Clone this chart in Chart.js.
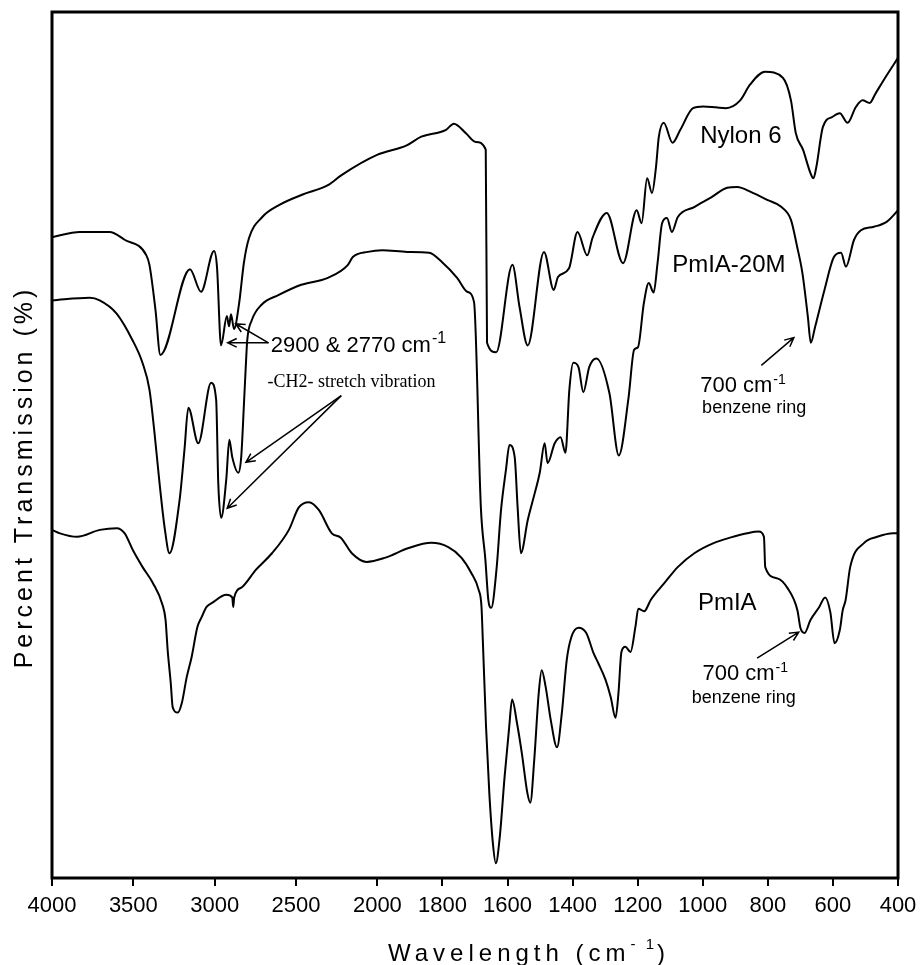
<!DOCTYPE html>
<html>
<head>
<meta charset="utf-8">
<title>FTIR spectra</title>
<script src="https://cdn.jsdelivr.net/npm/chart.js@4/dist/chart.umd.min.js"></script>
<style>
  html, body { margin: 0; padding: 0; background: #fff; }
  canvas { display: block; }
</style>
</head>
<body>
<canvas id="ftir" width="924" height="965"></canvas>
<script>
// Tick labels on the wavenumber axis (cm-1)
const wavenumberTicks = [4000, 3500, 3000, 2500, 2000, 1800, 1600, 1400, 1200, 1000, 800, 600, 400];

// Nylon 6
const nylonWavenumber = [4000, 3829, 3646, 3554, 3420, 3401, 3364, 3334, 3152, 3084, 3004, 2986, 2961, 2925, 2912, 2900, 2881, 2851, 2820, 2789, 2709, 2605, 2463, 2304, 2218, 2002, 1910, 1865, 1789, 1765, 1728, 1698, 1667, 1663, 1635, 1585, 1563, 1538, 1488, 1458, 1445, 1411, 1385, 1355, 1339, 1295, 1245, 1203, 1188, 1171, 1156, 1144, 1135, 1120, 1093, 1069, 1030, 999, 960, 929, 885, 855, 809, 754, 729, 714, 692, 669, 660, 651, 631, 601, 579, 555, 530, 509, 487, 469, 438, 400];
const nylonTransmission = [74.0, 74.6, 74.6, 73.7, 71.9, 70.8, 65.6, 60.4, 70.3, 67.7, 72.4, 70.6, 61.5, 64.9, 63.7, 65.1, 63.4, 66.2, 71.1, 73.9, 76.3, 77.7, 78.9, 80.0, 81.2, 83.5, 84.6, 85.6, 86.4, 87.1, 86.0, 85.0, 84.1, 61.8, 60.7, 70.8, 65.9, 61.5, 72.3, 67.9, 69.4, 70.4, 74.6, 71.9, 73.9, 76.8, 71.0, 77.1, 75.6, 80.8, 79.1, 82.0, 85.6, 87.2, 84.9, 86.4, 88.9, 89.1, 89.0, 88.9, 89.8, 91.6, 93.1, 92.4, 89.8, 86.0, 84.1, 81.4, 80.8, 82.1, 86.7, 87.9, 88.3, 87.2, 89.0, 89.8, 89.5, 90.6, 92.5, 94.7];

// PmIA-20M
const pmia20mWavenumber = [4000, 3768, 3707, 3604, 3505, 3444, 3401, 3370, 3339, 3308, 3278, 3216, 3186, 3162, 3101, 3022, 2991, 2978, 2960, 2929, 2910, 2892, 2855, 2837, 2819, 2807, 2800, 2772, 2712, 2609, 2468, 2304, 2181, 2151, 2059, 1985, 1908, 1841, 1801, 1755, 1724, 1703, 1682, 1668, 1659, 1650, 1634, 1620, 1605, 1594, 1578, 1569, 1559, 1538, 1516, 1501, 1486, 1477, 1455, 1437, 1422, 1410, 1398, 1382, 1367, 1349, 1327, 1287, 1258, 1228, 1211, 1199, 1181, 1166, 1151, 1139, 1125, 1110, 1095, 1077, 1025, 974, 925, 894, 851, 802, 759, 729, 710, 694, 677, 668, 655, 626, 597, 575, 560, 535, 514, 474, 434, 400];
const pmia20mTransmission = [66.7, 67.0, 66.7, 65.2, 62.1, 59.5, 56.4, 51.4, 45.6, 40.5, 37.5, 43.6, 49.4, 54.3, 50.2, 57.2, 55.2, 45.6, 41.6, 46.0, 50.6, 48.6, 46.8, 48.6, 55.2, 59.8, 62.1, 64.4, 66.2, 67.3, 68.5, 69.3, 70.8, 71.7, 72.3, 72.5, 72.3, 72.2, 71.1, 69.3, 67.7, 66.5, 42.8, 36.7, 32.1, 31.2, 35.6, 42.5, 47.1, 50.0, 48.6, 42.8, 37.5, 41.3, 44.5, 46.8, 50.2, 47.9, 50.2, 50.9, 49.1, 56.4, 59.5, 59.0, 56.1, 59.0, 60.0, 56.0, 48.8, 55.5, 61.0, 61.3, 66.4, 68.7, 67.6, 71.0, 75.6, 76.2, 74.6, 76.3, 77.5, 78.6, 79.7, 79.8, 79.2, 78.3, 77.5, 76.0, 72.9, 69.9, 64.8, 61.8, 63.6, 67.9, 71.7, 72.2, 70.6, 73.7, 74.8, 75.2, 75.8, 77.1];

// PmIA
const pmiaWavenumber = [4000, 3951, 3846, 3706, 3602, 3553, 3504, 3443, 3381, 3320, 3302, 3289, 3270, 3258, 3227, 3202, 3172, 3142, 3106, 3081, 3050, 3014, 2928, 2892, 2886, 2880, 2831, 2746, 2648, 2544, 2483, 2421, 2360, 2280, 2225, 2157, 2066, 1975, 1904, 1834, 1782, 1742, 1711, 1689, 1680, 1676, 1666, 1656, 1645, 1636, 1624, 1609, 1595, 1586, 1571, 1556, 1539, 1530, 1518, 1504, 1495, 1483, 1467, 1448, 1433, 1418, 1404, 1382, 1358, 1336, 1321, 1299, 1283, 1268, 1259, 1250, 1238, 1222, 1207, 1198, 1180, 1160, 1117, 1077, 1026, 965, 916, 864, 828, 812, 808, 771, 740, 709, 700, 687, 669, 642, 624, 608, 595, 579, 570, 561, 547, 504, 464, 414, 400];
const pmiaTransmission = [40.2, 39.8, 39.4, 40.2, 40.4, 39.8, 37.9, 35.9, 34.1, 31.5, 29.8, 26.3, 22.5, 19.7, 19.1, 20.2, 23.2, 25.5, 29.0, 30.1, 31.3, 31.8, 32.7, 32.4, 31.3, 32.4, 33.6, 35.6, 37.5, 40.2, 42.8, 43.4, 42.5, 39.8, 39.3, 37.5, 36.5, 37.0, 38.1, 38.7, 38.2, 37.0, 35.2, 33.3, 31.3, 27.5, 17.4, 9.8, 4.0, 1.7, 4.7, 11.7, 17.4, 20.6, 17.9, 14.4, 9.8, 8.7, 13.6, 21.4, 24.0, 22.1, 18.2, 15.1, 19.1, 25.2, 27.8, 28.9, 28.3, 26.0, 24.8, 22.9, 20.9, 18.5, 21.4, 26.1, 26.7, 26.1, 29.0, 31.1, 30.8, 32.1, 34.1, 35.9, 37.5, 38.7, 39.3, 39.8, 40.0, 39.4, 35.9, 34.6, 33.5, 30.9, 28.9, 28.3, 29.8, 31.3, 32.4, 30.7, 27.1, 28.6, 30.9, 32.1, 35.9, 38.7, 39.4, 39.8, 39.8];

// The wavenumber axis is compressed 2:1 above 2000 cm-1 (chart-paper scale change).
function axisPos(w) { return w >= 2000 ? (4000 - w) / 2 : 1000 + (2000 - w); }
function axisWave(u) { return u <= 1000 ? 4000 - 2 * u : 3000 - u; }

function toPoints(ws, ts) { return ws.map((w, i) => ({ x: axisPos(w), y: ts[i] })); }

const SANS = '"Liberation Sans", Arial, Helvetica, sans-serif';
const SERIF = '"Liberation Serif", "Times New Roman", serif';

// Curve names and band annotations, placed in (wavenumber, transmission) units
const curveNames = [
  { text: 'Nylon 6',  w: 1008, t: 84.9 },
  { text: 'PmIA-20M', w: 1094, t: 70.0 },
  { text: 'PmIA',     w: 1015, t: 30.9 }
];
const bandNotes = [
  { text: '700 cm', sup: '-1', w: 1008, t: 56.1, size: 22, supSize: 14, rise: 8 },
  { text: 'benzene ring', w: 1002, t: 53.7, size: 18 },
  { text: '700 cm', sup: '-1', w: 1001, t: 22.9, size: 22, supSize: 14, rise: 8 },
  { text: 'benzene ring', w: 1034, t: 20.2, size: 18 },
  { text: '2900 & 2770 cm', sup: '-1', w: 2656, t: 60.7, size: 22, supSize: 16, rise: 9 },
  { text: '-CH2- stretch vibration', w: 2675, t: 56.7, size: 18, serif: true }
];
const arrows = [
  { from: [2669, 61.8], to: [2871, 64.0] },
  { from: [2669, 61.8], to: [2920, 61.8] },
  { from: [2222, 55.7], to: [2808, 48.0] },
  { from: [2222, 55.7], to: [2923, 42.7] },
  { from: [820, 59.2],  to: [720, 62.4] },
  { from: [833, 25.4],  to: [705, 28.4] }
];

const decorations = {
  id: 'decorations',
  afterDraw(chart) {
    const { ctx, chartArea: a, scales } = chart;
    const px = w => scales.x.getPixelForValue(axisPos(w));
    const py = t => scales.y.getPixelForValue(t);
    ctx.save();
    ctx.fillStyle = '#000';
    ctx.strokeStyle = '#000';

    // plot frame
    ctx.lineWidth = 3;
    ctx.strokeRect(a.left, a.top, a.right - a.left, a.bottom - a.top);

    // curve names
    ctx.textAlign = 'left';
    ctx.textBaseline = 'alphabetic';
    ctx.font = '24px ' + SANS;
    curveNames.forEach(n => ctx.fillText(n.text, px(n.w), py(n.t)));

    // band notes
    bandNotes.forEach(n => {
      const x = px(n.w), y = py(n.t);
      ctx.font = n.size + 'px ' + (n.serif ? SERIF : SANS);
      ctx.fillText(n.text, x, y);
      if (n.sup) {
        const wMain = ctx.measureText(n.text).width;
        ctx.font = n.supSize + 'px ' + SANS;
        ctx.fillText(n.sup, x + wMain + 1, y - n.rise);
      }
    });

    // arrows with open heads
    ctx.lineWidth = 1.5;
    arrows.forEach(ar => {
      const x1 = px(ar.from[0]), y1 = py(ar.from[1]);
      const x2 = px(ar.to[0]), y2 = py(ar.to[1]);
      ctx.beginPath();
      ctx.moveTo(x1, y1);
      ctx.lineTo(x2, y2);
      const ang = Math.atan2(y2 - y1, x2 - x1);
      const L = 10, spread = 0.45;
      ctx.moveTo(x2 - L * Math.cos(ang - spread), y2 - L * Math.sin(ang - spread));
      ctx.lineTo(x2, y2);
      ctx.lineTo(x2 - L * Math.cos(ang + spread), y2 - L * Math.sin(ang + spread));
      ctx.stroke();
    });

    // x axis title, starting under the 2000 cm-1 tick
    ctx.font = '24px ' + SANS;
    ctx.letterSpacing = '5px';
    const xt = 'Wavelength (cm';
    const xtW = ctx.measureText(xt).width;
    ctx.font = '15px ' + SANS;
    ctx.letterSpacing = '3px';
    const supW = ctx.measureText('- 1').width;
    const x0 = a.left + 336;
    ctx.font = '24px ' + SANS;
    ctx.letterSpacing = '5px';
    ctx.fillText(xt, x0, 961);
    ctx.font = '15px ' + SANS;
    ctx.letterSpacing = '3px';
    ctx.fillText('- 1', x0 + xtW, 949);
    ctx.font = '24px ' + SANS;
    ctx.letterSpacing = '0px';
    ctx.fillText(')', x0 + xtW + supW, 961);

    // y axis title
    ctx.translate(32, 477);
    ctx.rotate(-Math.PI / 2);
    ctx.textAlign = 'center';
    ctx.font = '25px ' + SANS;
    ctx.letterSpacing = '4px';
    ctx.fillText('Percent Transmission (%)', 0, 0);
    ctx.restore();
  }
};

const lineStyle = {
  borderColor: '#000',
  borderWidth: 2,
  pointRadius: 0,
  fill: false,
  cubicInterpolationMode: 'monotone'
};

new Chart(document.getElementById('ftir'), {
  type: 'line',
  data: {
    datasets: [
      Object.assign({ label: 'Nylon 6',  data: toPoints(nylonWavenumber, nylonTransmission) }, lineStyle),
      Object.assign({ label: 'PmIA-20M', data: toPoints(pmia20mWavenumber, pmia20mTransmission) }, lineStyle),
      Object.assign({ label: 'PmIA',     data: toPoints(pmiaWavenumber, pmiaTransmission) }, lineStyle)
    ]
  },
  options: {
    responsive: false,
    animation: false,
    devicePixelRatio: 1,
    layout: { padding: { left: 0, right: 26, top: 12, bottom: 0 } },
    plugins: { legend: { display: false }, tooltip: { enabled: false } },
    scales: {
      x: {
        type: 'linear',
        min: 0,
        max: 2600,
        afterBuildTicks: s => { s.ticks = wavenumberTicks.map(w => ({ value: axisPos(w) })); },
        afterFit: s => { s.height = 87; },
        ticks: {
          autoSkip: false,
          maxRotation: 0,
          padding: 7,
          color: '#000',
          font: { family: SANS, size: 22 },
          callback: v => String(Math.round(axisWave(v)))
        },
        grid: { drawOnChartArea: false, drawTicks: true, tickLength: 8, color: '#000', lineWidth: 2 },
        border: { display: false }
      },
      y: {
        min: 0,
        max: 100,
        afterFit: s => { s.width = 52; },
        ticks: { display: false },
        grid: { display: false },
        border: { display: false }
      }
    }
  },
  plugins: [decorations]
});
</script>
</body>
</html>
